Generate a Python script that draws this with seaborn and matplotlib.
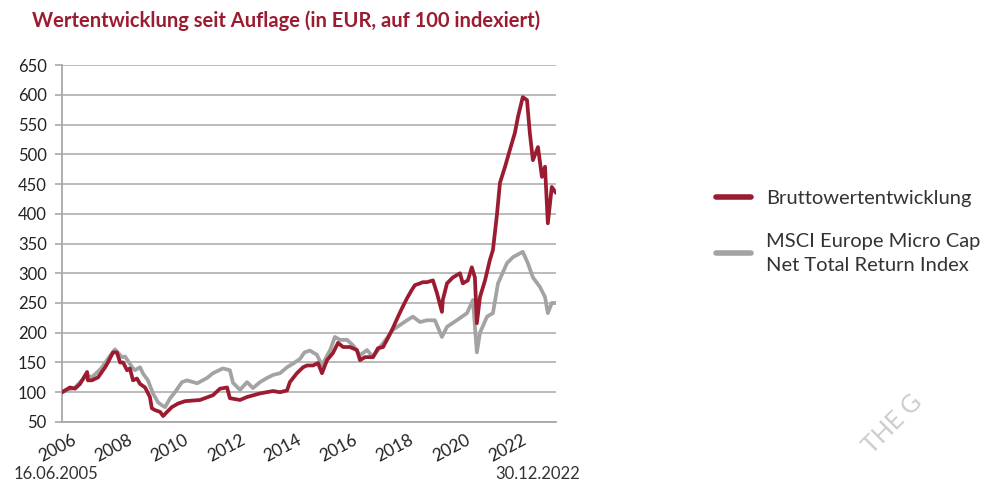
import numpy as np
import pandas as pd
import matplotlib
matplotlib.use('Agg')
import matplotlib.pyplot as plt
import seaborn as sns

# fund (gross performance), decimal years and index values
fund_years = [2005.46, 2005.74, 2005.92, 2006.10, 2006.35, 2006.38, 2006.52, 2006.74, 2006.99,
              2007.09, 2007.27, 2007.41, 2007.52, 2007.63, 2007.77, 2007.87, 2007.98, 2008.12,
              2008.23, 2008.41, 2008.58, 2008.65, 2008.76, 2008.94, 2009.05, 2009.19, 2009.36,
              2009.58, 2009.83, 2010.36, 2010.82, 2011.07, 2011.32, 2011.42, 2011.78, 2012.03,
              2012.49, 2012.95, 2013.20, 2013.45, 2013.55, 2013.80, 2014.02, 2014.16, 2014.37,
              2014.55, 2014.69, 2014.87, 2015.08, 2015.26, 2015.44, 2015.68, 2015.93, 2016.04,
              2016.22, 2016.50, 2016.68, 2016.86, 2017.03, 2017.21, 2017.39, 2017.53, 2017.71,
              2017.88, 2017.99, 2018.17, 2018.27, 2018.42, 2018.63, 2018.77, 2018.95, 2018.98,
              2019.13, 2019.34, 2019.59, 2019.69, 2019.87, 2020.01, 2020.12, 2020.19, 2020.30,
              2020.48, 2020.65, 2020.76, 2020.90, 2021.01, 2021.19, 2021.36, 2021.54, 2021.65,
              2021.82, 2021.97, 2022.07, 2022.18, 2022.36, 2022.50, 2022.61, 2022.71, 2022.85,
              2023.00]
fund_values = [100, 108, 106, 114, 134, 120, 120, 125, 142,
               150, 167, 167, 150, 150, 137, 140, 120, 123,
               114, 108, 92, 73, 70, 67, 60, 67, 75,
               81, 85, 87, 95, 106, 108, 90, 87, 92,
               98, 102, 100, 103, 117, 132, 142, 145, 145,
               149, 132, 154, 166, 183, 176, 176, 171, 154,
               159, 159, 174, 176, 191, 208, 227, 241, 258,
               272, 280, 283, 285, 285, 288, 267, 235, 255,
               283, 293, 300, 283, 288, 310, 293, 216, 260,
               288, 322, 339, 397, 452, 479, 507, 536, 563,
               596, 591, 536, 490, 512, 462, 479, 384, 445,
               435]

# MSCI Europe Micro Cap Net Total Return Index
index_years = [2005.46, 2005.92, 2006.35, 2006.52, 2006.85, 2007.13, 2007.34, 2007.59, 2007.70,
               2007.95, 2008.05, 2008.23, 2008.33, 2008.51, 2008.69, 2008.87, 2009.01, 2009.12,
               2009.30, 2009.47, 2009.72, 2009.90, 2010.26, 2010.61, 2010.82, 2011.17, 2011.42,
               2011.53, 2011.78, 2012.03, 2012.24, 2012.49, 2012.74, 2012.95, 2013.20, 2013.45,
               2013.66, 2013.91, 2014.07, 2014.26, 2014.51, 2014.69, 2014.98, 2015.15, 2015.33,
               2015.58, 2015.79, 2016.04, 2016.29, 2016.50, 2016.75, 2017.00, 2017.21, 2017.46,
               2017.71, 2017.92, 2018.17, 2018.42, 2018.70, 2018.95, 2019.13, 2019.48, 2019.84,
               2020.05, 2020.19, 2020.30, 2020.55, 2020.76, 2020.94, 2021.26, 2021.47, 2021.82,
               2022.00, 2022.18, 2022.43, 2022.61, 2022.71, 2022.85, 2023.00]
index_values = [100, 108, 129, 125, 140, 159, 172, 159, 160,
                142, 137, 142, 132, 120, 98, 83, 78, 75,
                90, 100, 117, 120, 115, 124, 132, 140, 137,
                116, 104, 117, 107, 117, 124, 129, 132, 142,
                148, 156, 167, 170, 163, 145, 171, 193, 188,
                188, 179, 162, 171, 159, 176, 191, 205, 213,
                221, 227, 218, 221, 221, 193, 210, 221, 233,
                255, 167, 200, 227, 233, 283, 317, 327, 336,
                317, 293, 277, 260, 233, 250, 250]

tick_labels = ['2006', '2008', '2010', '2012', '2014', '2016', '2018', '2020', '2022']
tick_pos = [2005.78 + 2 * i for i in range(len(tick_labels))]
y_ticks = list(range(50, 651, 50))

red = '#9b1c31'
grey = '#a3a3a3'

sns.set_style('white')
plt.rcParams['font.family'] = ['Lato', 'DejaVu Sans']

fig = plt.figure(figsize=(9.86, 4.87), dpi=100)
ax = fig.add_axes([0.0629, 0.1335, 0.501, 0.733])

df_fund = pd.DataFrame({'x': fund_years, 'y': fund_values})
df_idx = pd.DataFrame({'x': index_years, 'y': index_values})

sns.lineplot(data=df_idx, x='x', y='y', ax=ax, color=grey, lw=2.7,
             label='MSCI Europe Micro Cap\nNet Total Return Index', zorder=3)
sns.lineplot(data=df_fund, x='x', y='y', ax=ax, color=red, lw=2.7,
             label='Bruttowertentwicklung', zorder=4)

ax.set_xlim(2005.46, 2023.0)
ax.set_ylim(50, 650)
ax.set_yticks(y_ticks)
ax.set_yticklabels([str(v) for v in y_ticks], fontsize=12, color='#222222')
ax.set_xticks(tick_pos)
ax.set_xticklabels(tick_labels, rotation=28, ha='right', rotation_mode='anchor',
                   fontsize=12.5, color='#222222')
ax.tick_params(axis='x', length=0, pad=7)
ax.tick_params(axis='y', length=5, width=1.2, color='#a8a8a8', pad=6, left=True)
ax.grid(axis='y', color='#b5b5b5', lw=1.3)
ax.set_axisbelow(True)
ax.set_xlabel('')
ax.set_ylabel('')
for s in ['top', 'right']:
    ax.spines[s].set_visible(False)
for s in ['left', 'bottom']:
    ax.spines[s].set_color('#a8a8a8')
    ax.spines[s].set_linewidth(1.3)

handles, labels = ax.get_legend_handles_labels()
ax.legend(handles[::-1], labels[::-1], loc='upper left', bbox_to_anchor=(0.708, 0.648),
          bbox_transform=fig.transFigure, frameon=False, fontsize=14.5,
          handlelength=1.75, handletextpad=0.72, labelspacing=1.3,
          labelcolor='#333333')
for t in ax.get_legend().get_texts():
    t.set_linespacing(1.5)
for line in ax.get_legend().get_lines():
    line.set_linewidth(4)

fig.text(0.032, 0.958, 'Wertentwicklung seit Auflage (in EUR, auf 100 indexiert)',
         fontsize=14.5, fontweight='bold', color='#9b1c31', va='center', ha='left')
fig.text(0.014, 0.026, '16.06.2005', fontsize=12, color='#333333', va='center')
fig.text(0.588, 0.026, '30.12.2022', fontsize=12, color='#333333', va='center', ha='right')
fig.text(0.905, 0.13, 'THE G', fontsize=18, color='#cccccc', rotation=45,
         ha='center', va='center')

fig.savefig('out.png', dpi=100)
